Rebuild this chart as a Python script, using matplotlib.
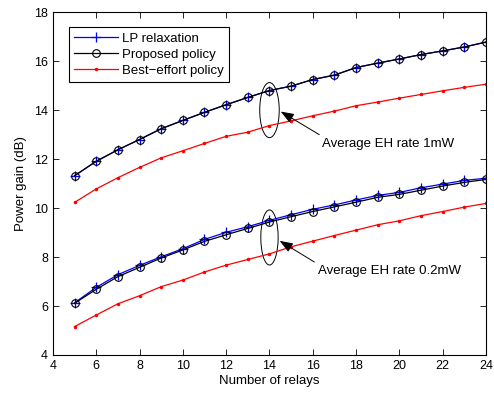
import matplotlib
matplotlib.use("Agg")
import matplotlib.pyplot as plt
from matplotlib.patches import Ellipse

plt.rcParams['font.family'] = ['Liberation Sans', 'DejaVu Sans']

relays = list(range(5, 25))

lp_1mw = [11.32, 11.91, 12.38, 12.80, 13.24, 13.58, 13.91, 14.22, 14.52, 14.80,
          14.98, 15.25, 15.43, 15.74, 15.92, 16.09, 16.27, 16.42, 16.58, 16.78]
prop_1mw = [11.32, 11.91, 12.38, 12.80, 13.24, 13.58, 13.91, 14.22, 14.52, 14.80,
            14.98, 15.25, 15.43, 15.74, 15.92, 16.09, 16.27, 16.42, 16.58, 16.78]
best_1mw = [10.23, 10.78, 11.24, 11.66, 12.05, 12.34, 12.64, 12.93, 13.10, 13.37,
            13.56, 13.77, 13.96, 14.18, 14.33, 14.49, 14.64, 14.79, 14.93, 15.06]

lp_02mw = [6.13, 6.76, 7.28, 7.66, 8.01, 8.34, 8.72, 9.01, 9.24, 9.50,
           9.73, 9.95, 10.13, 10.33, 10.52, 10.64, 10.83, 10.98, 11.13, 11.22]
prop_02mw = [6.11, 6.68, 7.20, 7.58, 7.96, 8.29, 8.64, 8.91, 9.17, 9.43,
             9.65, 9.86, 10.05, 10.24, 10.44, 10.56, 10.73, 10.90, 11.05, 11.17]
best_02mw = [5.16, 5.63, 6.09, 6.42, 6.79, 7.06, 7.39, 7.67, 7.90, 8.13,
             8.42, 8.65, 8.88, 9.10, 9.32, 9.48, 9.69, 9.86, 10.04, 10.19]

xticks = list(range(4, 25, 2))
yticks = list(range(4, 19, 2))

fig = plt.figure(figsize=(4.94, 3.93), dpi=100)
ax = fig.add_axes([0.107, 0.0967, 0.877, 0.8723])

fs = 9.5
lw = 0.9
for prop, lp, best in [(prop_1mw, lp_1mw, best_1mw), (prop_02mw, lp_02mw, best_02mw)]:
    hl, = ax.plot(relays, lp, color='blue', lw=lw, marker='+', ms=6.5,
                  mew=0.9, label='LP relaxation')
    hp, = ax.plot(relays, prop, color='black', lw=lw, marker='o', ms=5.5,
                  mfc='none', mec='black', mew=0.8, label='Proposed policy')
    hb, = ax.plot(relays, best, color='red', lw=lw, marker='.', ms=3,
                  label='Best\u2212effort policy')

ax.set_xlim(4, 24)
ax.set_ylim(4, 18)
ax.set_xticks(xticks)
ax.set_yticks(yticks)
ax.tick_params(direction='in', top=True, right=True, labelsize=9, length=4, width=0.6)
for s in ax.spines.values():
    s.set_linewidth(0.8)
ax.set_xlabel('Number of relays', fontsize=fs, labelpad=2)
ax.set_ylabel('Power gain (dB)', fontsize=fs, labelpad=5)

leg = ax.legend([hl, hp, hb], ['LP relaxation', 'Proposed policy', 'Best\u2212effort policy'],
                loc='upper left', bbox_to_anchor=(0.022, 0.975), fontsize=fs,
                fancybox=False, edgecolor='black', framealpha=1, borderpad=0.4,
                handlelength=3.3, labelspacing=0.28, handletextpad=0.35)
leg.get_frame().set_linewidth(0.8)

ax.add_patch(Ellipse((14, 14.0), 0.9, 2.25, fill=False, ec='black', lw=0.7))
ax.add_patch(Ellipse((14, 8.8), 0.8, 2.25, fill=False, ec='black', lw=0.7))

arrow = dict(arrowstyle='-|>,head_length=0.8,head_width=0.3', color='black', lw=0.7)
ax.annotate('', xy=(14.41, 14.0), xytext=(16.41, 12.94), arrowprops=arrow)
ax.text(16.41, 12.6, 'Average EH rate 1mW', fontsize=fs, ha='left', va='center')
ax.annotate('', xy=(14.36, 8.72), xytext=(16.18, 7.74), arrowprops=arrow)
ax.text(16.22, 7.43, 'Average EH rate 0.2mW', fontsize=fs, ha='left', va='center')

fig.savefig('out.png', dpi=100)
